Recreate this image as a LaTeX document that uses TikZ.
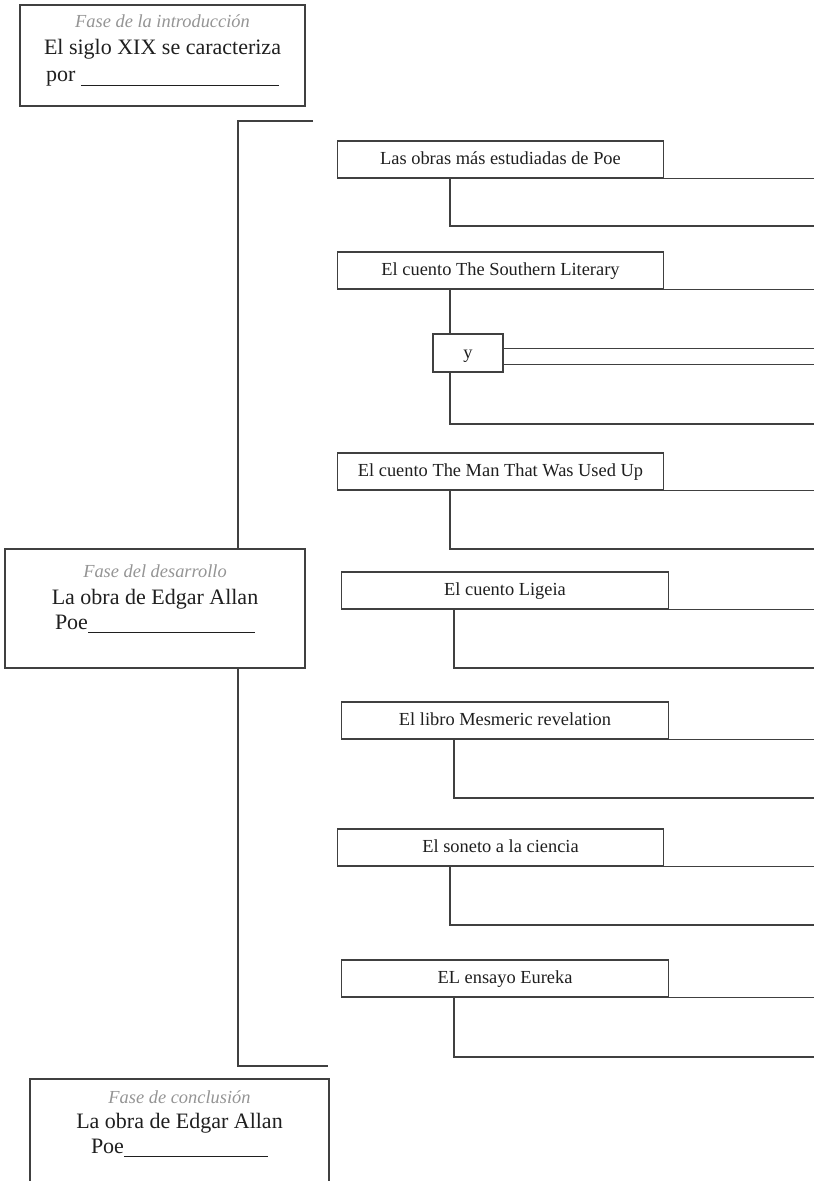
\documentclass[tikz,border=0pt]{standalone}
\usepackage{fontspec}
\setmainfont{Liberation Serif}
\usetikzlibrary{fit,calc}
\definecolor{edge}{gray}{0.25}
\definecolor{phasegray}{gray}{0.58}
\definecolor{ink}{gray}{0.12}
\begin{document}
\begin{tikzpicture}[x=0.75pt,y=-0.75pt,
  phasebox/.style={draw=edge, line width=0.9pt, inner sep=0pt},
  itembox/.style={draw=edge, line width=0.9pt, inner sep=0pt, fill=white, text=ink,
    minimum width=245pt, minimum height=27.75pt,
    font=\fontsize{13.8}{16}\selectfont, text height=9.6pt, text depth=2.1pt},
  ybox/.style={itembox, minimum width=52.5pt, minimum height=28.5pt},
  ln/.style={draw=edge, line width=0.8pt},
  phasetitle/.style={anchor=base, inner sep=0pt, text=phasegray,
    font=\fontsize{13.8}{16}\selectfont\itshape},
  phasetext/.style={anchor=base, inner sep=0pt, text=ink,
    font=\fontsize{16.5}{20}\selectfont}]

\clip (0,0) rectangle (814,1181);

% helper coordinates: right margin and main bracket spine
\coordinate (redge) at (814,0);
\coordinate (spine) at (238,0);
\coordinate (brTop) at (313,121);
\coordinate (brBot) at (328,1066);

% ---- phase boxes ----
\node[phasebox, fit={(20,5)(305,106)}] (intro) {};
\node[phasetitle] (introT) at (162.5,28) {Fase de la introducción};
\node[phasetext] (introA) at (162.5,55) {El siglo XIX se caracteriza};
\node[phasetext] (introB) at (162.5,82) {por \rule[-2.5pt]{148.5pt}{0.6pt}};

\node[phasebox, fit={(5,549)(305,668)}] (dev) {};
\node[phasetitle] (devT) at (155,577) {Fase del desarrollo};
\node[phasetext] (devA) at (155,604) {La obra de Edgar Allan};
\node[phasetext] (devB) at (155,629) {Poe\rule[-3pt]{125.25pt}{0.6pt}};

\node[phasebox, fit={(30,1079)(329,1200)}] (concl) {};
\node[phasetitle] (conclT) at (179.5,1103) {Fase de conclusión};
\node[phasetext] (conclA) at (179.5,1128) {La obra de Edgar Allan};
\node[phasetext] (conclB) at (179.5,1153) {Poe\rule[-3pt]{108pt}{0.6pt}};

% ---- main bracket ----
\draw[ln] (brTop) -| (spine |- dev.north);
\draw[ln] (spine |- dev.south) |- (brBot);

% ---- works ----
\node[itembox] (w1) at (500.5,159.5) {Las obras más estudiadas de Poe};
\coordinate (s1) at (450,226);
\draw[ln] (w1.south east) -- (w1.south east -| redge);
\draw[ln] (w1.south -| s1) |- (s1 -| redge);

\node[itembox] (w2) at (500.5,270.5) {El cuento The Southern Literary};
\node[ybox] (yy) at (468,353) {y};
\coordinate (s2) at (450,424);
\draw[ln] (w2.south east) -- (w2.south east -| redge);
\draw[ln] (w2.south -| s2) -- (s2 |- yy.north);
\draw[ln] (s2 |- yy.south) |- (s2 -| redge);
\coordinate (ya) at ($(yy.north east)+(0,15)$);
\coordinate (yb) at ($(yy.north east)+(0,31)$);
\draw[ln] (ya) -- (ya -| redge);
\draw[ln] (yb) -- (yb -| redge);

\node[itembox] (w3) at (500.5,471.5) {El cuento The Man That Was Used Up};
\coordinate (s3) at (450,549);
\draw[ln] (w3.south east) -- (w3.south east -| redge);
\draw[ln] (w3.south -| s3) |- (s3 -| redge);

\node[itembox] (w4) at (505,590.5) {El cuento Ligeia};
\coordinate (s4) at (454,668);
\draw[ln] (w4.south east) -- (w4.south east -| redge);
\draw[ln] (w4.south -| s4) |- (s4 -| redge);

\node[itembox] (w5) at (505,720.5) {El libro Mesmeric revelation};
\coordinate (s5) at (454,798);
\draw[ln] (w5.south east) -- (w5.south east -| redge);
\draw[ln] (w5.south -| s5) |- (s5 -| redge);

\node[itembox] (w6) at (500.5,847.5) {El soneto a la ciencia};
\coordinate (s6) at (450,925);
\draw[ln] (w6.south east) -- (w6.south east -| redge);
\draw[ln] (w6.south -| s6) |- (s6 -| redge);

\node[itembox] (w7) at (505,978.5) {EL ensayo Eureka};
\coordinate (s7) at (454,1057);
\draw[ln] (w7.south east) -- (w7.south east -| redge);
\draw[ln] (w7.south -| s7) |- (s7 -| redge);

\end{tikzpicture}
\end{document}
